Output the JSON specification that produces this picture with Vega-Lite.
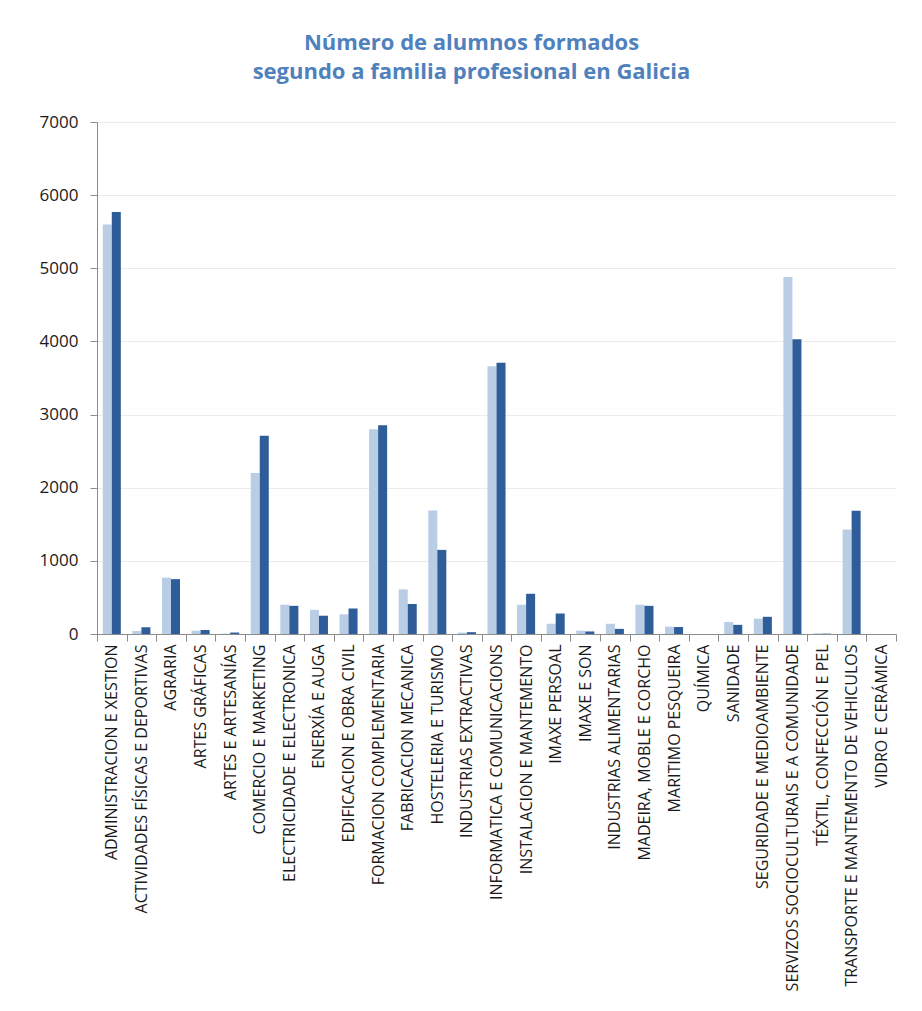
{
  "$schema": "https://vega.github.io/schema/vega-lite/v6.json",
  "width": 799,
  "height": 512,
  "autosize": {"type": "none"},
  "padding": {"left": 97, "top": 122, "right": 26, "bottom": 377},
  "background": "white",
  "title": {
    "text": ["Número de alumnos formados", "segundo a familia profesional en Galicia"],
    "font": "Open Sans",
    "fontSize": 22,
    "fontWeight": "bold",
    "color": "#4F81BD",
    "anchor": "middle",
    "dx": -25,
    "offset": 29,
    "lineHeight": 29
  },
  "data": {
    "values": [
      {"familia": "ADMINISTRACION E XESTION", "serie": "A", "alumnos": 5600},
      {"familia": "ADMINISTRACION E XESTION", "serie": "B", "alumnos": 5770},
      {"familia": "ACTIVIDADES FÍSICAS E DEPORTIVAS", "serie": "A", "alumnos": 40},
      {"familia": "ACTIVIDADES FÍSICAS E DEPORTIVAS", "serie": "B", "alumnos": 92},
      {"familia": "AGRARIA", "serie": "A", "alumnos": 770},
      {"familia": "AGRARIA", "serie": "B", "alumnos": 750},
      {"familia": "ARTES GRÁFICAS", "serie": "A", "alumnos": 45},
      {"familia": "ARTES GRÁFICAS", "serie": "B", "alumnos": 55},
      {"familia": "ARTES E ARTESANÍAS", "serie": "A", "alumnos": 5},
      {"familia": "ARTES E ARTESANÍAS", "serie": "B", "alumnos": 20},
      {"familia": "COMERCIO E MARKETING", "serie": "A", "alumnos": 2200},
      {"familia": "COMERCIO E MARKETING", "serie": "B", "alumnos": 2710},
      {"familia": "ELECTRICIDADE E ELECTRONICA", "serie": "A", "alumnos": 400},
      {"familia": "ELECTRICIDADE E ELECTRONICA", "serie": "B", "alumnos": 385},
      {"familia": "ENERXÍA E AUGA", "serie": "A", "alumnos": 330},
      {"familia": "ENERXÍA E AUGA", "serie": "B", "alumnos": 250},
      {"familia": "EDIFICACION E OBRA CIVIL", "serie": "A", "alumnos": 270},
      {"familia": "EDIFICACION E OBRA CIVIL", "serie": "B", "alumnos": 350},
      {"familia": "FORMACION COMPLEMENTARIA", "serie": "A", "alumnos": 2800},
      {"familia": "FORMACION COMPLEMENTARIA", "serie": "B", "alumnos": 2855},
      {"familia": "FABRICACION MECANICA", "serie": "A", "alumnos": 610},
      {"familia": "FABRICACION MECANICA", "serie": "B", "alumnos": 410},
      {"familia": "HOSTELERIA E TURISMO", "serie": "A", "alumnos": 1690},
      {"familia": "HOSTELERIA E TURISMO", "serie": "B", "alumnos": 1150},
      {"familia": "INDUSTRIAS EXTRACTIVAS", "serie": "A", "alumnos": 20},
      {"familia": "INDUSTRIAS EXTRACTIVAS", "serie": "B", "alumnos": 25},
      {"familia": "INFORMATICA E COMUNICACIONS", "serie": "A", "alumnos": 3660},
      {"familia": "INFORMATICA E COMUNICACIONS", "serie": "B", "alumnos": 3710},
      {"familia": "INSTALACION E MANTEMENTO", "serie": "A", "alumnos": 400},
      {"familia": "INSTALACION E MANTEMENTO", "serie": "B", "alumnos": 550},
      {"familia": "IMAXE PERSOAL", "serie": "A", "alumnos": 140},
      {"familia": "IMAXE PERSOAL", "serie": "B", "alumnos": 280},
      {"familia": "IMAXE E SON", "serie": "A", "alumnos": 45},
      {"familia": "IMAXE E SON", "serie": "B", "alumnos": 35},
      {"familia": "INDUSTRIAS ALIMENTARIAS", "serie": "A", "alumnos": 140},
      {"familia": "INDUSTRIAS ALIMENTARIAS", "serie": "B", "alumnos": 70},
      {"familia": "MADEIRA, MOBLE E CORCHO", "serie": "A", "alumnos": 400},
      {"familia": "MADEIRA, MOBLE E CORCHO", "serie": "B", "alumnos": 385},
      {"familia": "MARITIMO PESQUEIRA", "serie": "A", "alumnos": 100},
      {"familia": "MARITIMO PESQUEIRA", "serie": "B", "alumnos": 95},
      {"familia": "QUÍMICA", "serie": "A", "alumnos": 0},
      {"familia": "QUÍMICA", "serie": "B", "alumnos": 0},
      {"familia": "SANIDADE", "serie": "A", "alumnos": 165},
      {"familia": "SANIDADE", "serie": "B", "alumnos": 125},
      {"familia": "SEGURIDADE E MEDIOAMBIENTE", "serie": "A", "alumnos": 210},
      {"familia": "SEGURIDADE E MEDIOAMBIENTE", "serie": "B", "alumnos": 235},
      {"familia": "SERVIZOS SOCIOCULTURAIS E A COMUNIDADE", "serie": "A", "alumnos": 4880},
      {"familia": "SERVIZOS SOCIOCULTURAIS E A COMUNIDADE", "serie": "B", "alumnos": 4030},
      {"familia": "TÉXTIL, CONFECCIÓN E PEL", "serie": "A", "alumnos": 10},
      {"familia": "TÉXTIL, CONFECCIÓN E PEL", "serie": "B", "alumnos": 5},
      {"familia": "TRANSPORTE E MANTEMENTO DE VEHICULOS", "serie": "A", "alumnos": 1430},
      {"familia": "TRANSPORTE E MANTEMENTO DE VEHICULOS", "serie": "B", "alumnos": 1685},
      {"familia": "VIDRO E CERÁMICA", "serie": "A", "alumnos": 0},
      {"familia": "VIDRO E CERÁMICA", "serie": "B", "alumnos": 0}
    ]
  },
  "mark": {"type": "bar"},
  "encoding": {
    "x": {
      "field": "familia",
      "type": "nominal",
      "sort": null,
      "scale": {"paddingInner": 0, "paddingOuter": 0},
      "axis": {
        "title": null,
        "labelAngle": -90,
        "labelAlign": "right",
        "labelBaseline": "middle",
        "labelFont": "Open Sans",
        "labelFontSize": 16,
        "labelColor": "#1a1a1a",
        "labelPadding": 3,
        "labelLimit": 400,
        "labelOverlap": false,
        "tickBand": "extent",
        "tickSize": 7,
        "tickColor": "#8c8c8c",
        "domainColor": "#8c8c8c",
        "grid": false
      }
    },
    "xOffset": {
      "field": "serie",
      "type": "nominal",
      "scale": {"paddingInner": 0, "paddingOuter": 0.64}
    },
    "y": {
      "field": "alumnos",
      "type": "quantitative",
      "scale": {"domain": [0, 7000], "nice": false},
      "axis": {
        "title": null,
        "values": [0, 1000, 2000, 3000, 4000, 5000, 6000, 7000],
        "format": "d",
        "labelFont": "Open Sans",
        "labelFontSize": 17,
        "labelColor": "#1a1a1a",
        "labelPadding": 12,
        "tickSize": 7,
        "tickColor": "#8c8c8c",
        "domainColor": "#8c8c8c",
        "gridColor": "#ebebeb",
        "gridWidth": 1
      }
    },
    "color": {
      "field": "serie",
      "type": "nominal",
      "scale": {"domain": ["A", "B"], "range": ["#B9CDE5", "#2F5D9A"]},
      "legend": null
    }
  },
  "config": {
    "view": {"stroke": null}
  }
}
